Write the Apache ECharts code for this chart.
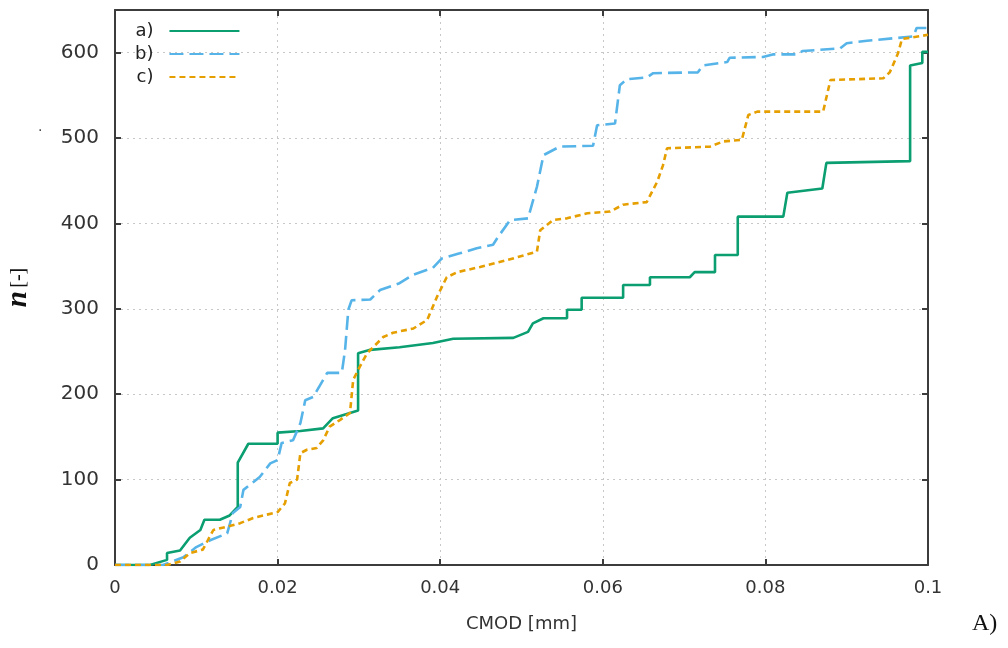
<!DOCTYPE html>
<html>
<head>
<meta charset="utf-8">
<script src="https://cdn.jsdelivr.net/npm/echarts@6/dist/echarts.min.js"></script>
<style>
  html, body { margin: 0; padding: 0; background: #fff; }
  #chart { width: 1008px; height: 648px; }
</style>
</head>
<body>
<div id="chart"></div>
<script>
// CMOD [mm] vs n [-]
var xTicks = [0, 0.02, 0.04, 0.06, 0.08, 0.1]
var yTicks = [0, 100, 200, 300, 400, 500, 600]
var names = ['a)', 'b)', 'c)']

var seriesA = [[0,0],[0.0043,0],[0.0064,6],[0.0064,14],[0.008,17],[0.0092,32],[0.0105,41],[0.011,53],[0.0129,53],
  [0.0141,58],[0.0151,68],[0.0151,120],[0.0164,142],[0.02,142],[0.02,155],[0.0228,157],[0.0256,160],[0.0268,172],
  [0.0299,181],[0.0299,248],[0.0314,252],[0.035,255],[0.0391,260],[0.0416,265],[0.049,266],[0.0508,273],[0.0514,283],
  [0.0527,289],[0.0556,289],[0.0556,299],[0.0574,299],[0.0574,313],[0.0625,313],[0.0625,328],[0.0658,328],[0.0658,337],
  [0.0707,337],[0.0713,343],[0.0738,343],[0.0738,363],[0.0766,363],[0.0766,408],[0.0822,408],[0.0827,436],[0.087,441],
  [0.0875,471],[0.0978,473],[0.0978,585],[0.0993,588],[0.0993,601],[0.1,601]]

var seriesB = [[0,0],[0.0059,0],[0.0084,9],[0.01,21],[0.0117,29],[0.0138,37],[0.0145,61],[0.0154,68],[0.0158,88],
  [0.017,97],[0.0178,103],[0.0191,119],[0.02,123],[0.0205,143],[0.0219,146],[0.0228,166],[0.0234,193],[0.0244,197],
  [0.0261,225],[0.0279,225],[0.0283,252],[0.0287,299],[0.0291,310],[0.0314,311],[0.0326,322],[0.035,330],[0.0367,340],
  [0.0391,348],[0.0402,359],[0.0424,365],[0.0445,371],[0.0465,375],[0.0471,384],[0.0486,404],[0.0508,406],[0.0519,443],
  [0.0527,480],[0.0547,490],[0.0588,491],[0.0593,515],[0.0615,517],[0.0621,562],[0.063,569],[0.0654,571],[0.0662,576],
  [0.0717,577],[0.0723,585],[0.0753,589],[0.0756,594],[0.0797,595],[0.0809,598],[0.0839,598],[0.0846,602],[0.0892,605],
  [0.09,611],[0.0925,614],[0.0982,619],[0.0986,629],[0.1,629]]

var seriesC = [[0,0],[0.0064,0],[0.008,4],[0.0092,14],[0.0108,18],[0.0121,41],[0.0138,45],[0.0154,49],[0.017,55],
  [0.0187,59],[0.02,62],[0.0209,72],[0.0215,96],[0.0224,100],[0.0228,131],[0.0236,135],[0.0248,137],[0.0256,146],
  [0.0264,162],[0.0277,170],[0.0289,178],[0.0293,217],[0.0301,232],[0.031,248],[0.033,267],[0.0342,272],[0.0367,277],
  [0.0384,287],[0.0396,314],[0.0408,337],[0.0421,343],[0.0449,349],[0.0482,357],[0.0519,367],[0.0523,392],[0.0539,404],
  [0.0556,406],[0.0581,412],[0.0609,414],[0.0625,422],[0.0654,425],[0.0667,449],[0.0674,468],[0.0679,488],[0.0732,490],
  [0.0748,496],[0.0771,498],[0.0779,527],[0.079,531],[0.0871,531],[0.088,568],[0.0945,570],[0.0953,577],[0.0963,599],
  [0.0968,616],[0.0994,620],[0.1,621]]

var colors = ['#0a9e70', '#56b4e9', '#e69f00']
var dashes = ['solid', [14, 6], [6, 4]]
var frame = '#3c3c3c'
var labelFont = 'DejaVu Sans'

var chart = echarts.init(document.getElementById('chart'))

function frameAxis(extra) {
  return Object.assign({
    type: 'value',
    axisLine: { show: true, onZero: false, lineStyle: { color: frame, width: 2 } },
    axisTick: { show: true, inside: true, length: 6, lineStyle: { color: frame, width: 2 } },
    axisLabel: { show: false },
    splitLine: { show: false }
  }, extra)
}

var option = {
  animation: false,
  backgroundColor: '#fff',
  grid: { left: 115, right: 80, top: 10, bottom: 83, containLabel: false, outerBoundsMode: 'none' },
  legend: {
    orient: 'vertical',
    left: 130,
    top: 17,
    align: 'right',
    itemWidth: 70,
    itemHeight: 14,
    itemGap: 5,
    data: names,
    itemStyle: { opacity: 0 },
    textStyle: { fontFamily: labelFont, fontSize: 18, color: '#222', padding: [0, 11, 0, 0] }
  },
  xAxis: [
    frameAxis({
      min: 0, max: 0.1, interval: 0.02, position: 'bottom',
      name: 'CMOD [mm]', nameLocation: 'middle', nameGap: 50,
      nameTextStyle: { fontFamily: labelFont, fontSize: 18, color: '#333' },
      axisLabel: { show: true, margin: 14, fontFamily: labelFont, fontSize: 18, color: '#333' },
      splitLine: { show: true, lineStyle: { color: '#c8c8c8', type: [2, 4], width: 1 } }
    }),
    frameAxis({ min: 0, max: 0.1, interval: 0.02, position: 'top' })
  ],
  yAxis: [
    frameAxis({
      min: 0, max: 650, interval: 100, position: 'left',
      name: '{n|n} {b|[-]}', nameLocation: 'middle', nameGap: 82, nameRotate: 90,
      nameTextStyle: {
        rich: {
          n: { fontFamily: 'Liberation Serif', fontStyle: 'italic', fontWeight: 'bold', fontSize: 29, color: '#111' },
          b: { fontFamily: 'Liberation Serif', fontSize: 20, color: '#111' }
        }
      },
      axisLabel: {
        show: true, margin: 16, fontFamily: labelFont, fontSize: 20, color: '#333',
        formatter: function (v) { return yTicks.indexOf(v) >= 0 ? String(v) : '' }
      },
      splitLine: { show: true, lineStyle: { color: '#c8c8c8', type: [2, 4], width: 1 } }
    }),
    frameAxis({ min: 0, max: 650, interval: 100, position: 'right' })
  ],
  series: [seriesA, seriesB, seriesC].map(function (d, i) {
    return {
      name: names[i], type: 'line', data: d, symbol: 'none', color: colors[i],
      lineStyle: { width: 2.6, color: colors[i], type: dashes[i] }
    }
  }),
  graphic: [
    { type: 'text', left: 972, top: 612, style: { text: 'A)', font: '24px "Liberation Serif"', fill: '#111' } },
    { type: 'text', left: 38, top: 120, style: { text: '.', font: '14px "DejaVu Sans"', fill: '#444' } }
  ]
}

chart.setOption(option)
</script>
</body>
</html>
